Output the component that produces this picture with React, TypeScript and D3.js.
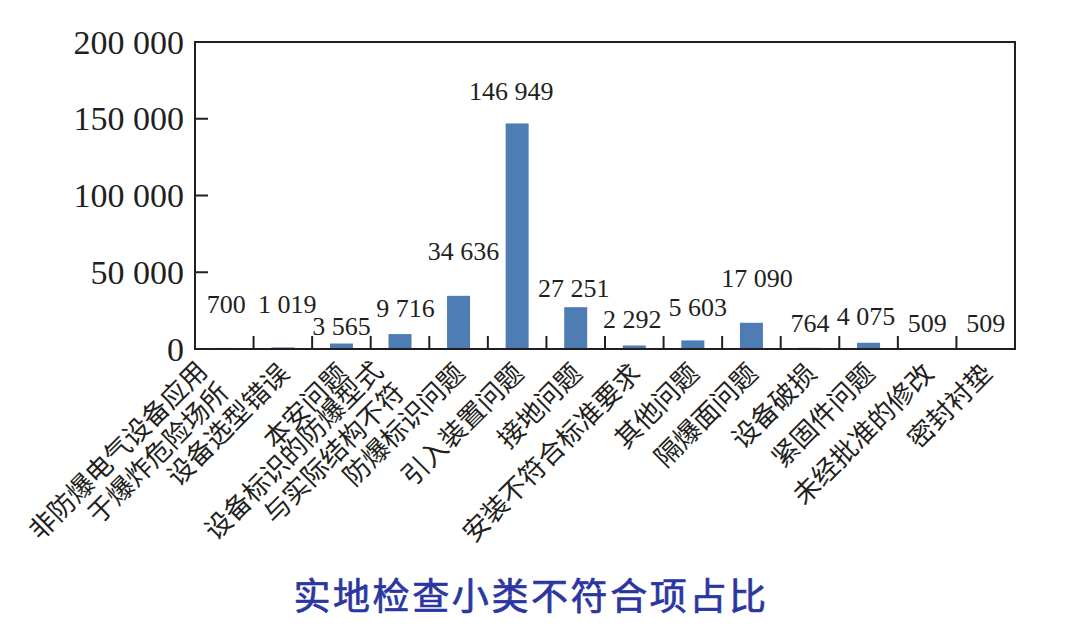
import React from "react";
import * as d3 from "d3";

// ---- data ----
const categories: string[][] = [
  ["非防爆电气设备应用", "于爆炸危险场所"],
  ["设备选型错误"],
  ["本安问题"],
  ["设备标识的防爆型式", "与实际结构不符"],
  ["防爆标识问题"],
  ["引入装置问题"],
  ["接地问题"],
  ["安装不符合标准要求"],
  ["其他问题"],
  ["隔爆面问题"],
  ["设备破损"],
  ["紧固件问题"],
  ["未经批准的修改"],
  ["密封衬垫"],
];
const values: number[] = [700, 1019, 3565, 9716, 34636, 146949, 27251, 2292, 5603, 17090, 764, 4075, 509, 509];
const yTicks: number[] = [0, 50000, 100000, 150000, 200000];
const title = "实地检查小类不符合项占比";

// ---- layout (label placement tweaks, in px) ----
const labelLift: number[] = [35, 34, 8.5, 17, 36, 23, 10, 17.5, 24, 36, 16, 18, 16.5, 16.5];
const labelNudge: number[] = [2, 4.5, 0, 5.5, 5, -6, -2, -2, 5, 5.5, 0, -2.5, 0, 0];

const W = 1080;
const H = 626;
const M = { left: 195, right: 1015, top: 42, bottom: 349 };

const fmt = d3.formatLocale({ decimal: ".", thousands: " ", grouping: [3], currency: ["", ""] }).format(",");

export default function App() {
  const x = d3
    .scaleBand<number>()
    .domain(values.map((_, i) => i))
    .range([M.left, M.right])
    .paddingInner(0)
    .paddingOuter(0);
  const y = d3.scaleLinear().domain([0, 200000]).range([M.bottom, M.top]);
  const bw = x.bandwidth();
  const barW = 23;
  const serif = "'Liberation Serif', 'Times New Roman', serif";
  const cjk = "'Noto Sans CJK SC', 'Noto Sans', sans-serif";
  const stroke = "#231f20";

  return (
    <svg
      width={W}
      height={H}
      viewBox={`0 0 ${W} ${H}`}
      style={{ position: "absolute", left: 0, top: 0, background: "#ffffff" }}
    >
      <rect x={0} y={0} width={W} height={H} fill="#ffffff" />
      {/* bars */}
      {values.map((v, i) => (
        <rect
          key={"b" + i}
          x={(x(i) as number) + bw / 2 - barW / 2}
          y={y(v)}
          width={barW}
          height={M.bottom - y(v)}
          fill="#4e7db4"
        />
      ))}
      {/* frame */}
      <rect
        x={M.left}
        y={M.top}
        width={M.right - M.left}
        height={M.bottom - M.top}
        fill="none"
        stroke={stroke}
        strokeWidth={2}
      />
      {/* y ticks */}
      {yTicks.map((t) => (
        <g key={"yt" + t}>
          {t > 0 && t < 200000 && (
            <line x1={M.left} x2={M.left + 13} y1={y(t)} y2={y(t)} stroke={stroke} strokeWidth={2} />
          )}
          <text
            x={M.left - 11}
            y={y(t)}
            dy="0.34em"
            textAnchor="end"
            fontFamily={serif}
            fontSize={34}
            fill="#231f20"
          >
            {fmt(t)}
          </text>
        </g>
      ))}
      {/* x ticks at band boundaries */}
      {values.slice(1).map((_, i) => {
        const xx = x(i + 1) as number;
        return <line key={"xt" + i} x1={xx} x2={xx} y1={M.bottom} y2={M.bottom - 13} stroke={stroke} strokeWidth={2} />;
      })}
      {/* value labels */}
      {values.map((v, i) => (
        <text
          key={"v" + i}
          x={(x(i) as number) + bw / 2 + labelNudge[i]}
          y={y(v) - labelLift[i]}
          textAnchor="middle"
          fontFamily={serif}
          fontSize={26}
          fill="#231f20"
        >
          {fmt(v)}
        </text>
      ))}
      {/* category labels */}
      {categories.map((lines, i) => {
        const cx = (x(i) as number) + bw / 2 + 8;
        const n = lines.length;
        return (
          <g key={"c" + i} transform={`translate(${cx},375) rotate(-45)`}>
            {lines.map((ln, k) => (
              <text
                key={k}
                x={n > 1 ? -15 : 0}
                y={n > 1 ? (k - (n - 1) / 2) * 30 - 3 : 0}
                textAnchor="end"
                fontFamily={cjk}
                fontSize={26.5}
                fill="#231f20"
              >
                {ln}
              </text>
            ))}
          </g>
        );
      })}
      {/* title */}
      <text
        x={531}
        y={610}
        textAnchor="middle"
        fontFamily={cjk}
        fontSize={37}
        fontWeight={400}
        letterSpacing={2.6}
        fill="#2b36a0"
        stroke="#2b36a0"
        strokeWidth={0.7}
      >
        {title}
      </text>
    </svg>
  );
}
